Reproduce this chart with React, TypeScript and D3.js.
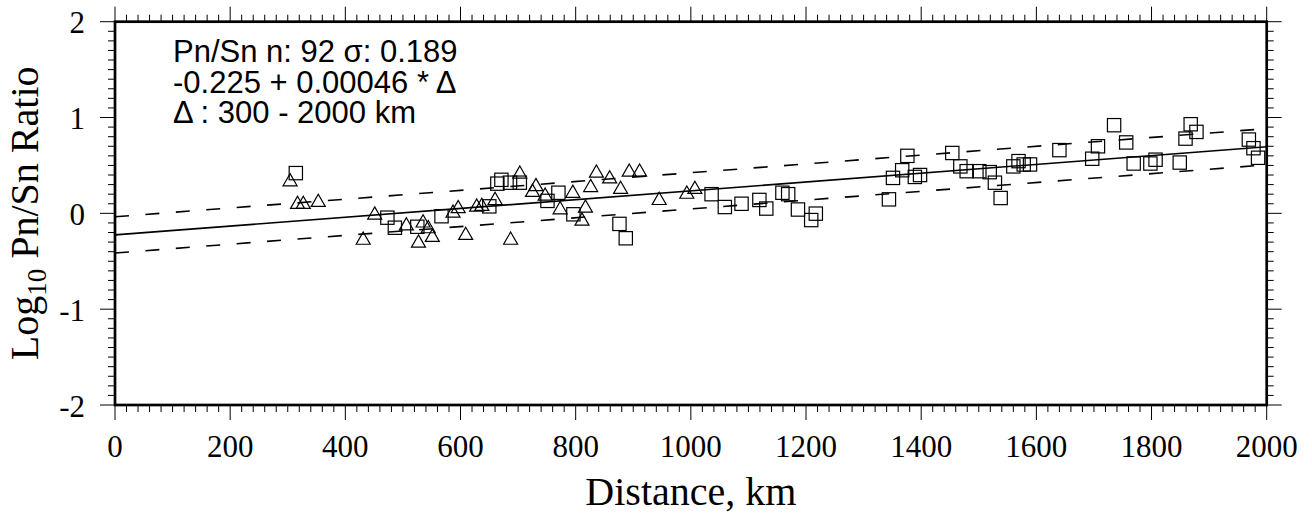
import React, { useEffect, useRef } from 'react';
import * as d3 from 'd3';

// triangles (distance km, log10 Pn/Sn)
const triDist = [304, 317, 327, 353, 451, 431, 506, 535, 544, 551, 527, 587, 596, 609, 628, 637, 660, 687, 703, 725,
  731, 747, 795, 836, 859, 826, 893, 911, 878, 773, 817, 811, 945, 993, 1007];
const triRatio = [0.33, 0.094, 0.094, 0.115, -0.017, -0.28, -0.13, -0.1, -0.16, -0.25, -0.31, 0.003, 0.05, -0.23, 0.066, 0.073, 0.135, -0.28, 0.41, 0.22,
  0.28, 0.18, 0.21, 0.42, 0.36, 0.27, 0.43, 0.43, 0.25, 0.038, 0.055, -0.08, 0.135, 0.2, 0.25];

// squares
const sqDist = [314, 473, 486, 525, 567, 650, 664, 671, 686, 703, 751, 770, 796, 876, 887, 1036, 1059, 1088, 1119, 1131,
  1159, 1169, 1186, 1209, 1217, 1344, 1351, 1367, 1376, 1389, 1398, 1454, 1468, 1479, 1501, 1519, 1528, 1538, 1560, 1569,
  1578, 1589, 1640, 1697, 1707, 1735, 1756, 1769, 1798, 1807, 1849, 1859, 1868, 1878, 1969, 1977, 1985];
const sqRatio = [0.42, -0.045, -0.15, -0.14, -0.03, 0.073, 0.31, 0.35, 0.32, 0.32, 0.13, 0.215, -0.01, -0.11, -0.26, 0.2, 0.066, 0.1, 0.14, 0.05,
  0.215, 0.2, 0.04, -0.07, -0.003, 0.146, 0.37, 0.45, 0.6, 0.38, 0.4, 0.63, 0.49, 0.44, 0.44, 0.43, 0.32, 0.16, 0.49, 0.545,
  0.51, 0.51, 0.66, 0.57, 0.7, 0.92, 0.74, 0.52, 0.52, 0.56, 0.53, 0.78, 0.93, 0.85, 0.77, 0.68, 0.58];

const fitA = -0.225;
const fitB = 0.00046;
const sigma = 0.189;
const infoLines = ['Pn/Sn n: 92 σ: 0.189', '-0.225 + 0.00046 * Δ', 'Δ : 300 - 2000 km'];
const xTicks = [0, 200, 400, 600, 800, 1000, 1200, 1400, 1600, 1800, 2000];
const yTicks = [-2, -1, 0, 1, 2];

export default function App() {
  const ref = useRef<SVGSVGElement>(null);

  useEffect(() => {
    const svg = d3.select(ref.current);
    svg.selectAll('*').remove();

    const margin = { left: 115, right: 1266.7, top: 21.7, bottom: 405 };
    const x = d3.scaleLinear().domain([0, 2000]).range([margin.left, margin.right]);
    const y = d3.scaleLinear().domain([-2, 2]).range([margin.bottom, margin.top]);

    const serif = '"Liberation Serif", "Times New Roman", serif';
    const sans = '"Liberation Sans", Arial, sans-serif';

    const g = svg.append('g');

    // minor + major ticks, outside on all four sides
    const xMinor = d3.range(0, 2001, 20);
    const yMinor = d3.range(-20, 21).map(d => d / 10);
    const ticks = g.append('g').attr('stroke', '#000').attr('stroke-width', 1);
    xMinor.forEach(v => {
      const len = v % 200 === 0 ? 15 : 7;
      ticks.append('line').attr('x1', x(v)).attr('x2', x(v)).attr('y1', margin.bottom).attr('y2', margin.bottom + len);
      ticks.append('line').attr('x1', x(v)).attr('x2', x(v)).attr('y1', margin.top).attr('y2', margin.top - len);
    });
    yMinor.forEach(v => {
      const len = Math.abs(v - Math.round(v)) < 1e-6 ? 15 : 7;
      ticks.append('line').attr('y1', y(v)).attr('y2', y(v)).attr('x1', margin.left).attr('x2', margin.left - len);
      ticks.append('line').attr('y1', y(v)).attr('y2', y(v)).attr('x1', margin.right).attr('x2', margin.right + len);
    });

    // frame
    g.append('rect')
      .attr('x', margin.left).attr('y', margin.top)
      .attr('width', margin.right - margin.left).attr('height', margin.bottom - margin.top)
      .attr('fill', 'none').attr('stroke', '#000').attr('stroke-width', 2.7);

    // tick labels
    g.append('g').selectAll('text').data(xTicks).enter().append('text')
      .attr('x', d => x(d)).attr('y', margin.bottom + 52)
      .attr('text-anchor', 'middle').attr('font-family', serif).attr('font-size', 31)
      .text(d => d);
    g.append('g').selectAll('text').data(yTicks).enter().append('text')
      .attr('x', 85).attr('y', d => y(d)).attr('dy', '0.38em')
      .attr('text-anchor', 'end').attr('font-family', serif).attr('font-size', 31)
      .text(d => d);

    // axis titles
    g.append('text')
      .attr('x', (margin.left + margin.right) / 2).attr('y', 505)
      .attr('text-anchor', 'middle').attr('font-family', serif).attr('font-size', 40)
      .text('Distance, km');
    const yt = g.append('text')
      .attr('transform', `translate(38,${(margin.top + margin.bottom) / 2}) rotate(-90)`)
      .attr('text-anchor', 'middle').attr('font-family', serif).attr('font-size', 40);
    yt.append('tspan').text('Log');
    yt.append('tspan').attr('font-size', 27).attr('dy', 8).text('10');
    yt.append('tspan').attr('dy', -8).text(' Pn/Sn Ratio');

    // fit and ±sigma lines
    const line = d3.line<number>().x(d => x(d[0])).y(d => y(d[1]));
    const fit = (off: number) => [0, 2000].map(d => [d, fitA + fitB * d + off]) as any;
    g.append('path').attr('d', line(fit(0))).attr('fill', 'none').attr('stroke', '#000').attr('stroke-width', 1.6);
    [sigma, -sigma].forEach(o => {
      g.append('path').attr('d', line(fit(o))).attr('fill', 'none').attr('stroke', '#000')
        .attr('stroke-width', 1.6).attr('stroke-dasharray', '14,16.5');
    });

    // triangles
    const tw = 14, th = 12.2;
    g.append('g').selectAll('path').data(triDist.map((d, i) => [d, triRatio[i]])).enter().append('path')
      .attr('d', d => {
        const cx = x(d[0]), cy = y(d[1]);
        return `M${cx},${cy - th * 2 / 3}L${cx + tw / 2},${cy + th / 3}L${cx - tw / 2},${cy + th / 3}Z`;
      })
      .attr('fill', 'none').attr('stroke', '#000').attr('stroke-width', 1.2);

    // squares
    const s = 13.3;
    g.append('g').selectAll('rect').data(sqDist.map((d, i) => [d, sqRatio[i]])).enter().append('rect')
      .attr('x', d => x(d[0]) - s / 2).attr('y', d => y(d[1]) - s / 2)
      .attr('width', s).attr('height', s)
      .attr('fill', 'none').attr('stroke', '#000').attr('stroke-width', 1.2);

    // info text
    g.append('g').selectAll('text').data(infoLines).enter().append('text')
      .attr('x', 173).attr('y', (d, i) => 62 + i * 30.6)
      .attr('font-family', sans).attr('font-size', 31)
      .text(d => d);
  }, []);

  return (
    <svg ref={ref} width={1312} height={513}
      style={{ position: 'absolute', left: 0, top: 0, background: '#fff' }} />
  );
}
